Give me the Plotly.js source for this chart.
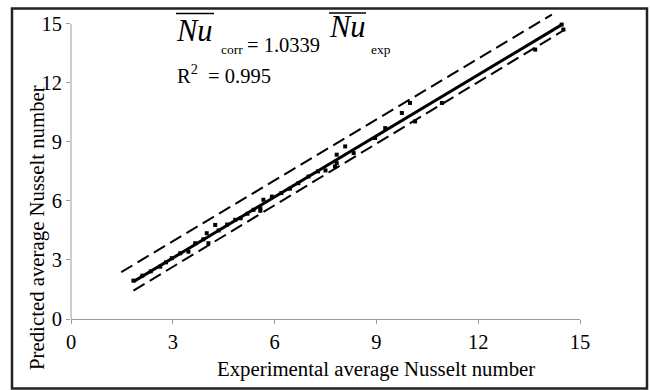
<!DOCTYPE html>
<html>
<head>
<meta charset="utf-8">
<script src="https://cdn.plot.ly/plotly-3.0.1.min.js"></script>
<style>
html,body{margin:0;padding:0;background:#fff;}
#chart{width:650px;height:390px;}
</style>
</head>
<body>
<div id="chart"></div>
<script>
// Experimental vs predicted average Nusselt number
const xExp = [1.84, 2.1, 2.35, 2.63, 2.8, 2.97, 3.22, 3.46, 3.66, 3.9, 4.0, 4.05, 4.25, 4.35, 4.6, 4.84, 5.0, 5.2, 5.38, 5.58, 5.58, 5.67, 5.92, 6.2, 6.45, 6.7, 7.0, 7.28, 7.5, 7.78, 7.83, 7.83, 8.08, 8.33, 8.96, 9.26, 9.75, 9.99, 10.14, 10.93, 13.68, 14.46, 14.51];
const yPred = [1.95, 2.2, 2.42, 2.66, 2.88, 3.09, 3.34, 3.42, 3.85, 4.05, 4.36, 3.85, 4.78, 4.5, 4.8, 5.04, 5.12, 5.35, 5.55, 5.63, 5.5, 6.06, 6.22, 6.4, 6.62, 6.9, 7.24, 7.5, 7.55, 7.75, 8.35, 7.92, 8.77, 8.43, 9.2, 9.7, 10.47, 10.98, 10.04, 10.98, 13.69, 14.96, 14.71];

// correlation line and +/- bounds (end points)
const fitX = [1.84, 14.43];
const fitY = [1.90, 14.92];
const upperX = [1.48, 14.17];
const upperY = [2.38, 15.47];
const lowerX = [1.84, 14.56];
const lowerY = [1.44, 14.71];

const tickVals = [0, 3, 6, 9, 12, 15];
const tickText = ["0", "3", "6", "9", "12", "15"];

const xTitle = "Experimental average Nusselt number";
const yTitle = "Predicted average Nusselt number";

// layout geometry (pixels)
const W = 650, H = 390;
const M = {l: 71, r: 70, t: 12, b: 71};
const yMax = 15.6;
const pw = W - M.l - M.r, ph = H - M.t - M.b;
const px = v => (v - M.l) / pw;          // pixel x -> paper x
const py = v => (H - M.b - v) / ph;      // pixel y -> paper y

const serif = "Liberation Serif";
const gray = "#9a9a9a";

const traces = [
  {x: upperX, y: upperY, mode: "lines", line: {color: "#000", width: 2, dash: "13px,6px"}, hoverinfo: "skip"},
  {x: lowerX, y: lowerY, mode: "lines", line: {color: "#000", width: 2, dash: "13px,6px"}, hoverinfo: "skip"},
  {x: fitX, y: fitY, mode: "lines", line: {color: "#000", width: 3}, hoverinfo: "skip"},
  {x: xExp, y: yPred, mode: "markers", marker: {symbol: "square", size: 4, color: "#000"}}
];

const layout = {
  width: W, height: H,
  margin: M,
  showlegend: false,
  paper_bgcolor: "#fff",
  plot_bgcolor: "#fff",
  font: {family: serif, color: "#000", size: 20},
  xaxis: {
    range: [0, 15], tickvals: tickVals, ticktext: tickText,
    showgrid: false, zeroline: false, showline: true, linecolor: gray, linewidth: 1,
    ticks: "outside", ticklen: 4, tickcolor: gray,
    tickfont: {family: serif, size: 20.5, color: "#000"}
  },
  yaxis: {
    range: [0, yMax], tickvals: tickVals, ticktext: tickText,
    showgrid: false, zeroline: false, showline: false,
    ticks: "outside", ticklen: 4, tickcolor: gray,
    tickfont: {family: serif, size: 20.5, color: "#000"}
  },
  shapes: [
    // y axis line up to 15
    {type: "line", xref: "paper", yref: "paper", x0: 0, x1: 0, y0: 0, y1: 15 / yMax, line: {color: gray, width: 1}},
    // outer frame
    {type: "rect", xref: "paper", yref: "paper", x0: px(12), x1: px(647), y0: py(388.5), y1: py(8.5), line: {color: "#222", width: 2.5}},
    // overlines on Nu
    {type: "line", xref: "paper", yref: "paper", x0: px(176), x1: px(214), y0: py(13.5), y1: py(13.5), line: {color: "#000", width: 1.3}},
    {type: "line", xref: "paper", yref: "paper", x0: px(329), x1: px(366), y0: py(13), y1: py(13), line: {color: "#000", width: 1.3}}
  ],
  annotations: [
    {xref: "paper", yref: "paper", x: px(376), y: py(369), text: xTitle, showarrow: false, xanchor: "center", yanchor: "middle", font: {family: serif, size: 20.8}},
    {xref: "paper", yref: "paper", x: px(37), y: py(228), text: yTitle, showarrow: false, textangle: -90, xanchor: "center", yanchor: "middle", font: {family: serif, size: 20.8}},
    {xref: "paper", yref: "paper", x: px(174), y: py(31), text: "<i>Nu</i>", showarrow: false, xanchor: "left", yanchor: "middle", font: {family: serif, size: 30.5}},
    {xref: "paper", yref: "paper", x: px(219), y: py(49), text: "corr", showarrow: false, xanchor: "left", yanchor: "middle", font: {family: serif, size: 13.5}},
    {xref: "paper", yref: "paper", x: px(245), y: py(45), text: "= 1.0339", showarrow: false, xanchor: "left", yanchor: "middle", font: {family: serif, size: 20.5}},
    {xref: "paper", yref: "paper", x: px(327), y: py(27), text: "<i>Nu</i>", showarrow: false, xanchor: "left", yanchor: "middle", font: {family: serif, size: 30.5}},
    {xref: "paper", yref: "paper", x: px(369), y: py(49), text: "exp", showarrow: false, xanchor: "left", yanchor: "middle", font: {family: serif, size: 13.5}},
    {xref: "paper", yref: "paper", x: px(175), y: py(74), text: "R<sup>2</sup>  = 0.995", showarrow: false, xanchor: "left", yanchor: "middle", font: {family: serif, size: 20.5}}
  ]
};

Plotly.newPlot("chart", traces, layout, {displayModeBar: false, staticPlot: true});
</script>
</body>
</html>
